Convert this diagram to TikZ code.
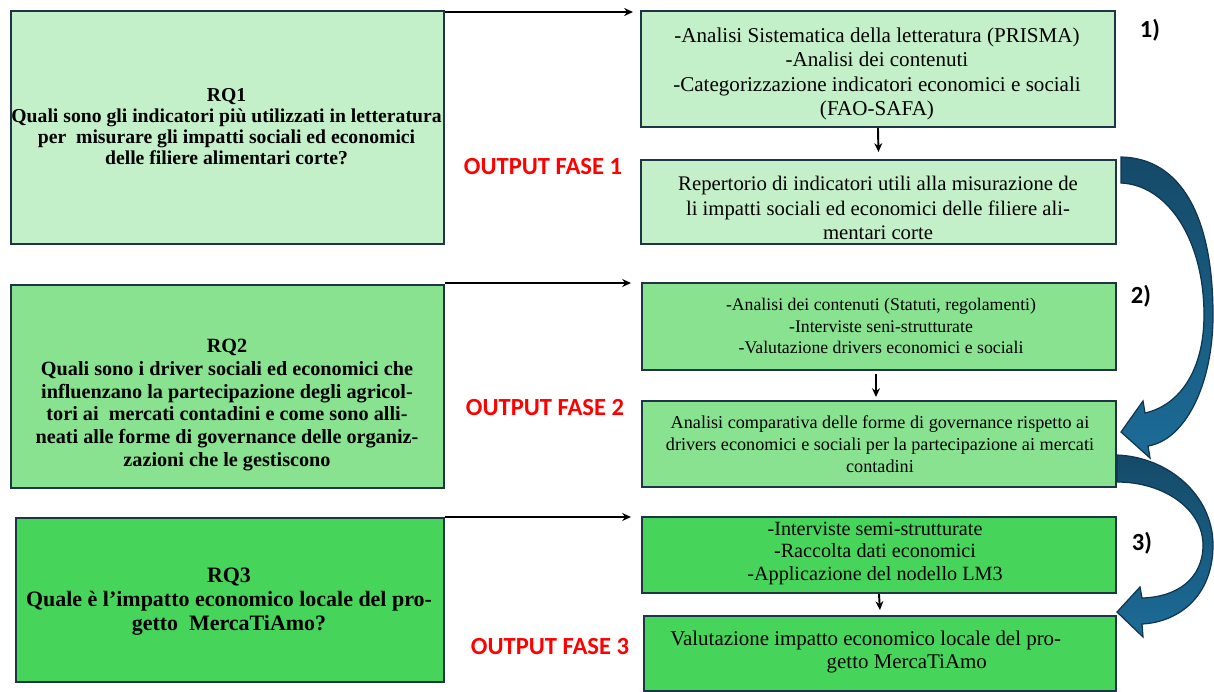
\documentclass[tikz,border=0pt]{standalone}
\usepackage{fontspec}
\setmainfont{Liberation Serif}
\newfontfamily\calfont{Carlito}
\usetikzlibrary{arrows.meta}
\definecolor{gA}{HTML}{C3F0C8}
\definecolor{gB}{HTML}{88E290}
\definecolor{gC}{HTML}{47D45A}
\definecolor{bord}{HTML}{1E3447}
\definecolor{adark}{HTML}{154A68}
\definecolor{alight}{HTML}{1C6C98}
\definecolor{aline}{HTML}{0F3550}
\definecolor{outred}{HTML}{FF0000}
\begin{document}
\begin{tikzpicture}[x=0.02cm, y=-0.02cm,
  wh/.style 2 args={minimum width=#1*0.02cm, minimum height=#2*0.02cm},
  box/.style={draw=bord, line width=1.1pt, anchor=north west, inner sep=0pt},
  conn/.style={draw=black, line width=1.1pt, -{Stealth[length=5pt,width=4.5pt]}},
  rqtext/.style={align=center, font=\bfseries\fontsize{11.2}{11.9}\selectfont, inner sep=0pt},
  boxtext/.style={align=center, inner sep=0pt},
  outlbl/.style={text=outred, font=\calfont\bfseries\fontsize{14}{16}\selectfont, inner sep=0pt},
  numlbl/.style={font=\calfont\bfseries\fontsize{14}{16}\selectfont, inner sep=0pt},
  bigarrow/.style={draw=aline, line width=0.7pt, top color=adark, bottom color=alight}
]
\useasboundingbox (0,0) rectangle (1214,691);

% left question boxes
\node[box, fill=gA, wh={433}{233}] (rq1) at (10,10) {};
\node[box, fill=gB, wh={433}{203}] (rq2) at (10,284) {};
\node[box, fill=gC, wh={428}{164}] (rq3) at (15,517) {};

% right boxes
\node[box, fill=gA, wh={474}{116}] (a1) at (640,10) {};
\node[box, fill=gA, wh={475}{84}]  (b1) at (640,159) {};
\node[box, fill=gB, wh={474}{87}]  (a2) at (641,282) {};
\node[box, fill=gB, wh={474}{86}]  (b2) at (641,400) {};
\node[box, fill=gC, wh={474}{76}]  (a3) at (641,516) {};
\node[box, fill=gC, wh={472}{75}]  (b3) at (643,615) {};

% texts
\node[rqtext] (trq1) at (226.5,126.5) {RQ1\\Quali sono gli indicatori più utilizzati in letteratura\\per\ \ misurare gli impatti sociali ed economici\\delle filiere alimentari corte?};
\node[rqtext, font=\bfseries\fontsize{11.5}{13}\selectfont] (trq2) at (227,405) {RQ2\\Quali sono i driver sociali ed economici che\\influenzano la partecipazione degli agricol-\\tori ai\ \ mercati contadini e come sono alli-\\neati alle forme di governance delle organiz-\\zazioni che le gestiscono};
\node[rqtext, font=\bfseries\fontsize{12.5}{13.6}\selectfont] (trq3) at (229,602) {RQ3\\Quale è l’impatto economico locale del pro-\\getto\ \ MercaTiAmo?};

\node[boxtext, font=\fontsize{12}{13.9}\selectfont] (ta1) at (877,74) {-Analisi Sistematica della letteratura (PRISMA)\\-Analisi dei contenuti\\-Categorizzazione indicatori economici e sociali\\(FAO-SAFA)};
\node[boxtext, font=\fontsize{11.8}{14}\selectfont] (tb1) at (878,208) {Repertorio di indicatori utili alla misurazione de\\li impatti sociali ed economici delle filiere ali-\\mentari corte};
\node[boxtext, font=\fontsize{10.1}{12.5}\selectfont] (ta2) at (881,326) {-Analisi dei contenuti (Statuti, regolamenti)\\-Interviste seni-strutturate\\-Valutazione drivers economici e sociali};
\node[boxtext, font=\fontsize{10.35}{12.5}\selectfont] (tb2) at (880,444) {Analisi comparativa delle forme di governance rispetto ai\\drivers economici e sociali per la partecipazione ai mercati\\contadini};
\node[boxtext, font=\fontsize{11.5}{12.8}\selectfont] (ta3) at (875,553) {-Interviste semi-strutturate\\-Raccolta dati economici\\-Applicazione del nodello LM3};
\node[boxtext, align=left, anchor=west, font=\fontsize{11.9}{13.6}\selectfont] (tb3) at (670,652) {Valutazione impatto economico locale del pro-\\\hspace*{89pt}getto MercaTiAmo};

% labels
\node[outlbl] (o1) at (543,167) {OUTPUT FASE 1};
\node[outlbl] (o2) at (545,408) {OUTPUT FASE 2};
\node[outlbl] (o3) at (550,647) {OUTPUT FASE 3};
\node[numlbl] (n1) at (1150,30) {1)};
\node[numlbl] (n2) at (1141,296) {2)};
\node[numlbl] (n3) at (1142,543) {3)};

% connectors
\draw[conn] ([yshift=-2*0.02cm]rq1.north east) -- ([xshift=-7*0.02cm, yshift=-2*0.02cm]a1.north west);
\draw[conn] ([yshift=0.02cm]rq2.north east) -- ([xshift=-10*0.02cm, yshift=-1*0.02cm]a2.north west);
\draw[conn] (rq3.north east) -- ([xshift=-10*0.02cm, yshift=-1*0.02cm]a3.north west);
\draw[conn] (a1.south) -- ([yshift=7*0.02cm]b1.north);
\draw[conn] ([xshift=-3*0.02cm, yshift=-3*0.02cm]a2.south) -- ([xshift=-3*0.02cm, yshift=3*0.02cm]b2.north);
\draw[conn] (a3.south) -- ([yshift=5*0.02cm]b3.north);

% curved block arrows
\path[bigarrow] (1121,157) .. controls (1180,158) and (1213,215) .. (1213,315) .. controls (1213,385) and (1185,440) .. (1148,446) -- (1150,458) -- (1121,432) -- (1143,401) -- (1145,413) .. controls (1180,405) and (1204,370) .. (1204,315) .. controls (1204,240) and (1168,185) .. (1121,183) -- cycle;
\path[bigarrow] (1117,455) .. controls (1168,457) and (1213,495) .. (1213,545) .. controls (1213,595) and (1180,622) .. (1142,624) -- (1143,637) -- (1117,612) -- (1140,587) -- (1142,598) .. controls (1178,597) and (1203,578) .. (1203,545) .. controls (1203,510) and (1165,482) .. (1117,482) -- cycle;
\end{tikzpicture}
\end{document}
